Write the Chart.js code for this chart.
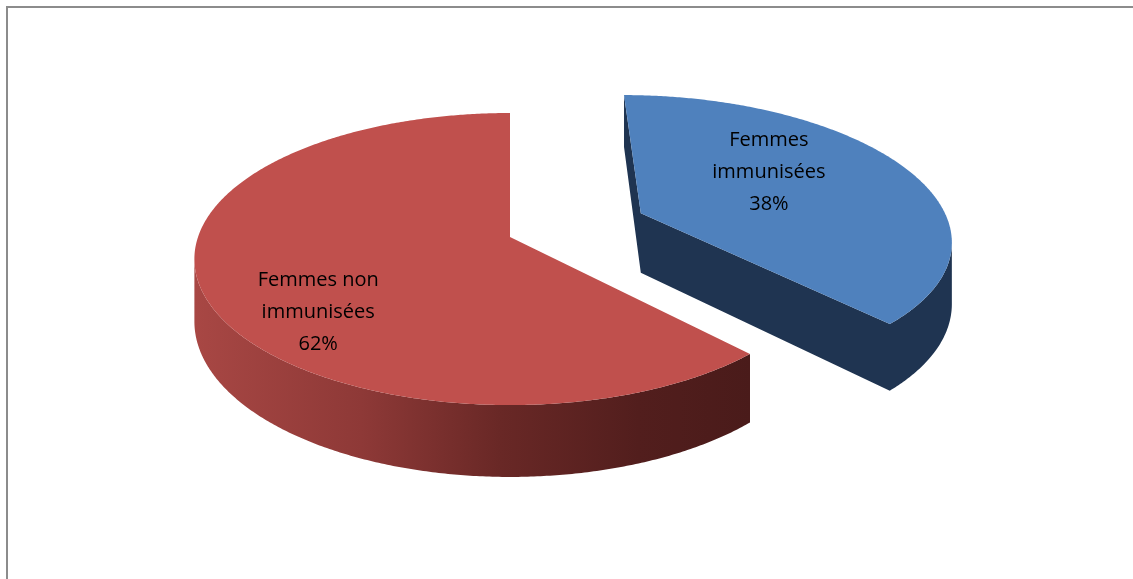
<!DOCTYPE html>
<html>
<head>
<meta charset="utf-8">
<script src="https://cdn.jsdelivr.net/npm/chart.js@4.4.1/dist/chart.umd.min.js"></script>
<style>
  html, body { margin: 0; padding: 0; background: #fff; overflow: hidden; }
  #frame { position: absolute; left: 6px; top: 6px; width: 1150px; height: 600px; border: 2px solid #8c8c8c; box-sizing: border-box; }
  #pie { position: absolute; left: 0; top: 0; }
</style>
</head>
<body>
<div id="frame"></div>
<canvas id="pie" width="1133" height="579"></canvas>
<script>
// ── Donnees ───────────────────────────────────────────────
const sliceLabels = [['Femmes', 'immunisées'], ['Femmes non', 'immunisées']];
const shares      = [38, 62];
const explode     = [185, 0];

// ── Style ─────────────────────────────────────────────────
const TOP_COLORS = ['#4f81bd', '#c0504d'];
const BLUE_SIDE  = '#1f3451';
const RED_SIDE   = [[0, '#a84744'], [0.3, '#8e3937'], [0.55, '#692826'], [0.8, '#521e1d'], [1, '#4a1b1a']];
const LABEL_POS  = [{ turn: -13, dist: 0.56 }, { turn: -19, dist: 0.75 }];

// projection 3D (perspective simple)
const RX = 312, RY = 142.7, PERSP = 0.151, DEPTH = 61;

function project(cx, cy, u, v, down) {
    const s = 1 / (1 - PERSP * v);
    return [cx + RX * u * s, cy + (RY * v + down * DEPTH) * s];
}

function sliceGeom(el) {
    const r    = el.outerRadius;
    const half = (el.startAngle + el.endAngle) / 2;
    const off  = (el.options.offset || 0) / 4 / r;
    const tu = Math.cos(half) * off, tv = Math.sin(half) * off;
    const pts = [[tu, tv]];
    const span = el.endAngle - el.startAngle;
    const n = Math.max(2, Math.ceil(span / (Math.PI / 360)));
    for (let i = 0; i <= n; i++) {
        const a = el.startAngle + span * i / n;
        pts.push([tu + Math.cos(a), tv + Math.sin(a)]);
    }
    return { pts, tu, tv, half };
}

const pie3d = {
    id: 'pie3d',
    beforeDatasetsDraw(chart) {
        const ctx  = chart.ctx;
        const arcs = chart.getDatasetMeta(0).data;
        const order = arcs.map((el, i) => ({ el, i, g: sliceGeom(el) }))
                          .sort((a, b) => a.g.tv - b.g.tv);

        order.forEach(({ el, i, g }) => {
            const top = g.pts.map(p => project(el.x, el.y, p[0], p[1], 0));
            const bot = g.pts.map(p => project(el.x, el.y, p[0], p[1], 1));

            // parois visibles
            ctx.save();
            ctx.beginPath();
            let minX = Infinity, maxX = -Infinity;
            for (let k = 0; k < top.length; k++) {
                const j = (k + 1) % top.length;
                const q = [top[k], top[j], bot[j], bot[k]];
                let area = 0;
                for (let m = 0; m < 4; m++) {
                    const a = q[m], b = q[(m + 1) % 4];
                    area += a[0] * b[1] - b[0] * a[1];
                }
                if (area >= 0) continue;
                ctx.moveTo(q[0][0], q[0][1]);
                for (let m = 1; m < 4; m++) ctx.lineTo(q[m][0], q[m][1]);
                ctx.closePath();
                q.forEach(p => { minX = Math.min(minX, p[0]); maxX = Math.max(maxX, p[0]); });
            }
            if (i === 0) {
                ctx.fillStyle = BLUE_SIDE;
            } else {
                const grad = ctx.createLinearGradient(minX, 0, maxX, 0);
                RED_SIDE.forEach(s => grad.addColorStop(s[0], s[1]));
                ctx.fillStyle = grad;
            }
            ctx.fill('nonzero');

            // face superieure
            ctx.beginPath();
            ctx.moveTo(top[0][0], top[0][1]);
            top.slice(1).forEach(p => ctx.lineTo(p[0], p[1]));
            ctx.closePath();
            ctx.fillStyle = TOP_COLORS[i];
            ctx.fill();
            ctx.restore();
        });
        return false;
    },
    afterDraw(chart) {
        const ctx  = chart.ctx;
        const arcs = chart.getDatasetMeta(0).data;
        ctx.save();
        ctx.font = '20px "Open Sans"';
        ctx.fillStyle = '#000';
        ctx.textAlign = 'center';
        ctx.textBaseline = 'middle';
        arcs.forEach((el, i) => {
            const g  = sliceGeom(el);
            const lp = LABEL_POS[i];
            const a  = g.half + lp.turn * Math.PI / 180;
            const [x, y] = project(el.x, el.y, g.tu + Math.cos(a) * lp.dist, g.tv + Math.sin(a) * lp.dist, 0);
            const lines = [...sliceLabels[i], shares[i] + '%'];
            lines.forEach((t, k) => ctx.fillText(t, x, y + (k - (lines.length - 1) / 2) * 32));
        });
        ctx.restore();
    },
};

new Chart(document.getElementById('pie').getContext('2d'), {
    type: 'pie',
    data: {
        labels: sliceLabels,
        datasets: [{
            data: shares,
            backgroundColor: TOP_COLORS,
            offset: explode,
            borderWidth: 0,
        }],
    },
    options: {
        responsive: false, animation: false,
        radius: 100,
        layout: { padding: { left: 0, right: 113, top: 0, bottom: 105 } },
        plugins: { legend: { display: false }, tooltip: { enabled: false } },
    },
    plugins: [pie3d],
});
</script>
</body>
</html>
